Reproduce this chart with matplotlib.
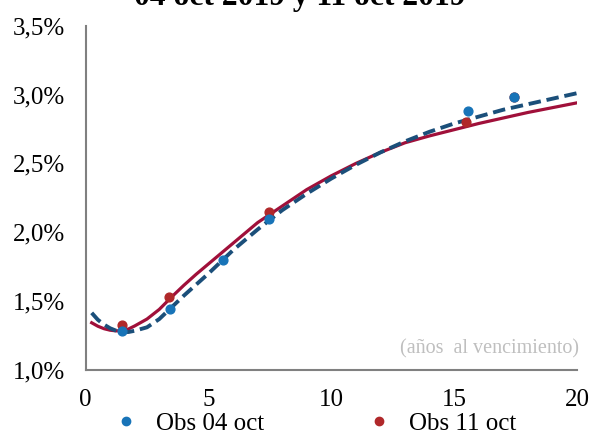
import matplotlib.pyplot as plt
from matplotlib.lines import Line2D
from matplotlib.ticker import FuncFormatter

plt.rcParams["font.family"] = ["Liberation Serif", "DejaVu Serif"]

# fitted curves (years to maturity, yield %)
curve_x = [0.25, 0.5, 0.75, 1, 1.25, 1.5, 1.75, 2, 2.5, 3, 3.5,
           4, 4.5, 5, 6, 7, 8, 9, 10, 11, 12, 13, 14, 15, 16, 17, 18, 19, 20]
curve_04 = [1.415, 1.365, 1.33, 1.303, 1.285, 1.276, 1.276, 1.285, 1.31,
            1.37, 1.455, 1.54, 1.62, 1.70, 1.87, 2.02, 2.16, 2.28, 2.39,
            2.49, 2.58, 2.66, 2.73, 2.79, 2.84, 2.89, 2.93, 2.97, 3.01]
curve_11 = [1.343, 1.318, 1.30, 1.289, 1.284, 1.287, 1.298, 1.32, 1.37,
            1.44, 1.53, 1.615, 1.695, 1.77, 1.92, 2.07, 2.19, 2.31, 2.41,
            2.50, 2.58, 2.65, 2.70, 2.745, 2.79, 2.83, 2.87, 2.905, 2.94]

# observed yields
obs_x_04 = [1.47, 3.43, 5.6, 7.47, 15.55, 17.45]
obs_y_04 = [1.28, 1.44, 1.80, 2.10, 2.88, 2.985]
obs_x_11 = [1.47, 3.38, 7.47, 15.5, 17.45]
obs_y_11 = [1.326, 1.53, 2.145, 2.80, 2.98]

title = "04 oct 2019 y 11 oct 2019"

fig = plt.figure(figsize=(5.9, 4.32), dpi=100)
ax = fig.add_axes([0.145, 0.1435, 0.833, 0.797])

ax.plot(curve_x, curve_11, color="#A0103A", lw=2.3, zorder=2)
ax.plot(curve_x, curve_04, color="#1B4F7A", lw=2.8, ls=(0, (3.2, 1.5)), zorder=3)
ax.scatter(obs_x_11, obs_y_11, s=40, color="#B0282A", zorder=4)
ax.scatter(obs_x_04, obs_y_04, s=40, color="#1874B8", zorder=4)

ax.set_xlim(0, 20)
ax.set_ylim(1.0, 3.5)
ax.set_xticks([0, 5, 10, 15, 20])
ax.set_yticks([1.0, 1.5, 2.0, 2.5, 3.0, 3.5])
ax.yaxis.set_major_formatter(FuncFormatter(lambda v, p: f"{v:.1f}%".replace(".", ",")))
ax.tick_params(length=0, labelsize=18)
ax.tick_params(axis="y", pad=15)
ax.tick_params(axis="x", pad=14)
for side in ["top", "right"]:
    ax.spines[side].set_visible(False)
for side in ["left", "bottom"]:
    ax.spines[side].set_color("#808080")
    ax.spines[side].set_linewidth(1.5)

ax.text(1.004, 0.062, "(años  al vencimiento)", transform=ax.transAxes,
        ha="right", va="center", fontsize=14.5, color="#BFBFBF")

fig.text(0.508, 0.988, title, ha="center", va="baseline", fontsize=22.7,
         fontweight="bold")

handles = [
    Line2D([], [], ls="", marker="o", ms=6, color="#1874B8"),
    Line2D([], [], ls="", marker="o", ms=6, color="#B0282A"),
]
fig.legend(handles, ["Obs 04 oct", "Obs 11 oct"], ncol=2, frameon=False,
           loc="center", bbox_to_anchor=(0.532, 0.02), fontsize=18,
           handletextpad=0.6, columnspacing=4.0, handlelength=1.2)

fig.savefig("out.png", dpi=100)
